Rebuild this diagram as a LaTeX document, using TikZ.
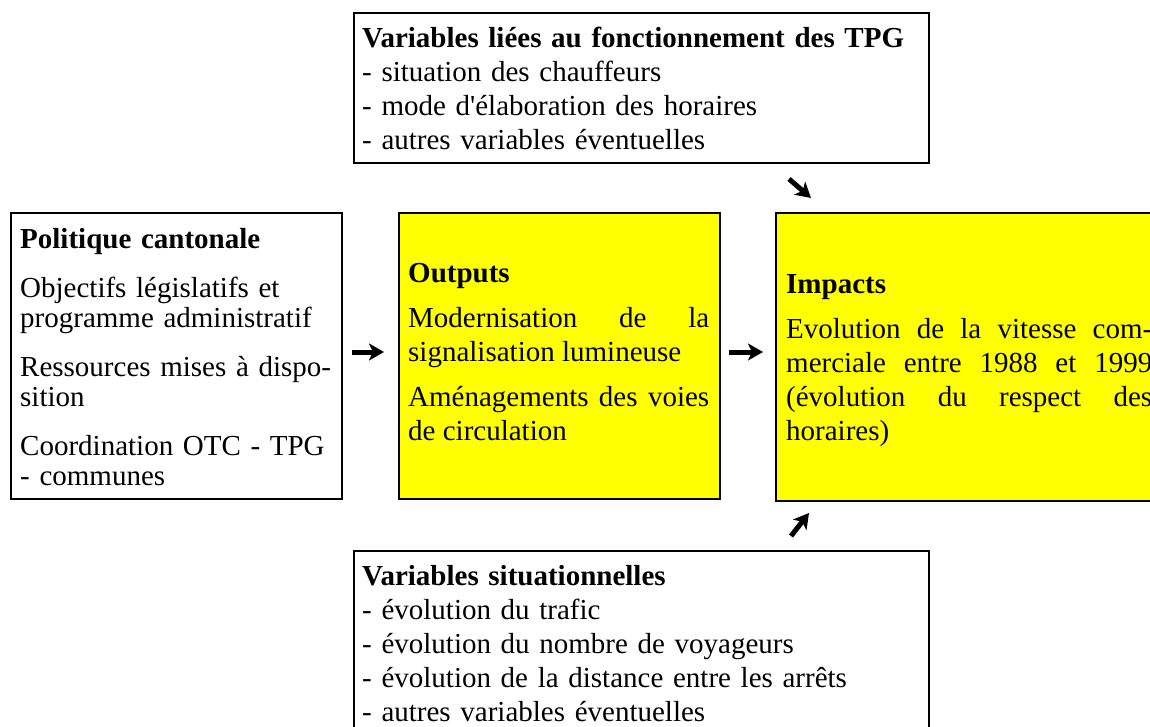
\documentclass[tikz,border=0pt]{standalone}
\usepackage{fontspec}
\setmainfont{Liberation Serif}
\usetikzlibrary{arrows.meta}
\definecolor{boxyellow}{RGB}{255,255,0}
\tolerance=10000
\hbadness=10000
\hyphenpenalty=10000
\begin{document}
\begin{tikzpicture}[x=1pt,y=-1pt,
  frame/.style={draw=black, line width=2pt, inner sep=0pt, anchor=north west},
  yellowframe/.style={frame, fill=boxyellow},
  txt/.style={anchor=north west, inner sep=0pt, font=\fontsize{29pt}{34pt}\selectfont},
  tighttxt/.style={txt, font=\fontsize{29pt}{30pt}\selectfont},
  arr/.style={line width=5pt, -{Stealth[length=15pt,width=17pt,inset=4pt]}}]
\fill[white] (0,0) rectangle (1150,727);
\useasboundingbox (0,0) rectangle (1150,727);

% boxes
\node[frame, minimum width=575pt, minimum height=150pt] (tpg) at (353,12) {};
\node[frame, minimum width=331pt, minimum height=286pt] (pol) at (10,212) {};
\node[yellowframe, minimum width=321pt, minimum height=286pt] (out) at (398,212) {};
\node[yellowframe, minimum width=390pt, minimum height=288pt] (imp) at (775,212) {};
\node[frame, minimum width=575pt, minimum height=200pt] (sit) at (353,550) {};

% texts
\node[txt, text width=560pt, align=left] (tpgt) at (362,22)
 {\rule{0pt}{25pt}\textbf{Variables liées au fonctionnement des TPG}\\
  - situation des chauffeurs\\
  - mode d\textquotesingle élaboration des horaires\\
  - autres variables éventuelles};

\node[tighttxt, text width=311pt, align=left] (polt) at (20,223)
 {\rule{0pt}{25pt}\textbf{Politique cantonale}\\[19pt]
  Objectifs législatifs et\\
  programme administratif\\[19pt]
  Ressources mises à dispo-\\
  sition\\[19pt]
  Coordination OTC - TPG\\
  - communes};

\node[txt, text width=301pt, align=justify] (outt) at (408,257)
 {\rule{0pt}{25pt}\textbf{Outputs}\\[11pt]
  Modernisation de la\linebreak
  signalisation lumineuse\\[11pt]
  Aménagements des voies\linebreak
  de circulation};

\node[txt, text width=366pt, align=justify] (impt) at (786,268)
 {\rule{0pt}{25pt}\textbf{Impacts}\\[11pt]
  Evolution de la vitesse com-\linebreak
  merciale entre 1988 et 1999\linebreak
  (évolution du respect des\linebreak
  horaires)};

\node[txt, text width=560pt, align=left] (sitt) at (362,560)
 {\rule{0pt}{25pt}\textbf{Variables situationnelles}\\
  - évolution du trafic\\
  - évolution du nombre de voyageurs\\
  - évolution de la distance entre les arrêts\\
  - autres variables éventuelles};

% arrows
\coordinate (a1s) at (352,352);
\coordinate (a1e) at (384,352);
\coordinate (a2s) at (729,352);
\coordinate (a2e) at (763,352);
\coordinate (a3s) at (789,179);
\coordinate (a3e) at (811,198);
\coordinate (a4s) at (791,536);
\coordinate (a4e) at (809,513);
\draw[arr] (a1s) -- (a1e);
\draw[arr] (a2s) -- (a2e);
\draw[arr] (a3s) -- (a3e);
\draw[arr] (a4s) -- (a4e);
\end{tikzpicture}
\end{document}
